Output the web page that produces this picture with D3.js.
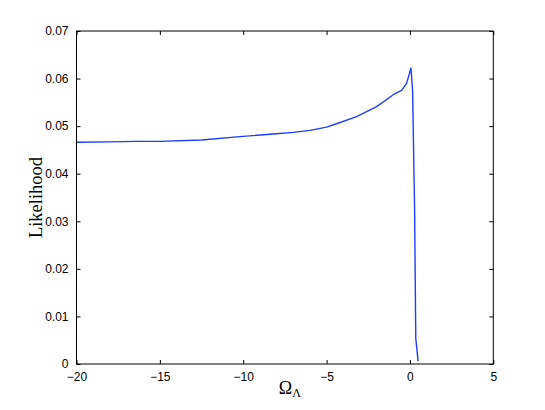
<!DOCTYPE html>
<html><head><meta charset="utf-8">
<script src="https://cdn.jsdelivr.net/npm/d3@7"></script>
<style>body{margin:0;background:#fff}</style>
</head><body>
<svg id="c" width="545" height="410"></svg>
<script>
const omegaL = [-20, -18, -16.5, -15, -12.5, -10.2, -8, -7, -6, -5, -4.4, -3.2, -2, -1, -0.5, -0.2, 0.06, 0.16, 0.28, 0.35, 0.49];
const likelihood = [0.0466, 0.0467, 0.0468, 0.0468, 0.0471, 0.0478, 0.0484, 0.0487, 0.0491, 0.0498, 0.0505, 0.0520, 0.0541, 0.0566, 0.0575, 0.0590, 0.0622, 0.0575, 0.0322, 0.0054, 0.0006];
const xTicks = [-20, -15, -10, -5, 0, 5];
const yTicks = [0, 0.01, 0.02, 0.03, 0.04, 0.05, 0.06, 0.07];

const svg = d3.select("#c");
const L = 76.5, R = 493.3, T = 31, B = 364;
const x = d3.scaleLinear().domain([-20, 5]).range([L, R]);
const y = d3.scaleLinear().domain([0, 0.07]).range([B, T]);
const fmtX = d => d < 0 ? "\u2212" + Math.abs(d) : String(d);
const font = "'Liberation Sans', Arial, Helvetica, sans-serif";

// curve
svg.append("path")
  .datum(omegaL.map((d, i) => [d, likelihood[i]]))
  .attr("fill", "none").attr("stroke", "#1f3dff").attr("stroke-width", 1.4)
  .attr("stroke-linejoin", "round")
  .attr("d", d3.line().x(d => x(d[0])).y(d => y(d[1])));

// axes (inward ticks on all sides)
const ax = (g, axis) => g.call(axis).call(s => s.select(".domain").remove())
  .call(s => s.selectAll("text").attr("font-family", font).attr("font-size", 12).attr("fill", "#000"))
  .call(s => s.selectAll("line").attr("stroke", "#000"));
svg.append("g").attr("transform", `translate(0,${B})`)
  .call(g => ax(g, d3.axisBottom(x).tickValues(xTicks).tickFormat(fmtX).tickSizeInner(-4).tickSizeOuter(0).tickPadding(8)));
svg.append("g").attr("transform", `translate(0,${T})`)
  .call(g => ax(g, d3.axisTop(x).tickValues(xTicks).tickFormat("").tickSizeInner(-4).tickSizeOuter(0)));
svg.append("g").attr("transform", `translate(${L},0)`)
  .call(g => ax(g, d3.axisLeft(y).tickValues(yTicks).tickFormat(d => d === 0 ? "0" : d3.format(".2f")(d)).tickSizeInner(-4).tickSizeOuter(0).tickPadding(8)));
svg.append("g").attr("transform", `translate(${R},0)`)
  .call(g => ax(g, d3.axisRight(y).tickValues(yTicks).tickFormat("").tickSizeInner(-4).tickSizeOuter(0)));

// box
svg.append("rect").attr("x", L).attr("y", T).attr("width", R - L).attr("height", B - T)
  .attr("fill", "none").attr("stroke", "#000").attr("stroke-width", 1);

// labels
const serif = "'Liberation Serif', 'Times New Roman', serif";
const xl = svg.append("text").attr("x", (L + R) / 2 + 5).attr("y", 394)
  .attr("text-anchor", "middle").attr("font-family", serif).attr("font-size", 18);
xl.append("tspan").text("\u03A9");
xl.append("tspan").attr("font-size", 12).attr("dy", 3).text("\u039B");
svg.append("text").attr("transform", `translate(42,${(T + B) / 2}) rotate(-90)`)
  .attr("text-anchor", "middle").attr("font-family", serif).attr("font-size", 18.5)
  .text("Likelihood");
</script>
</body></html>
